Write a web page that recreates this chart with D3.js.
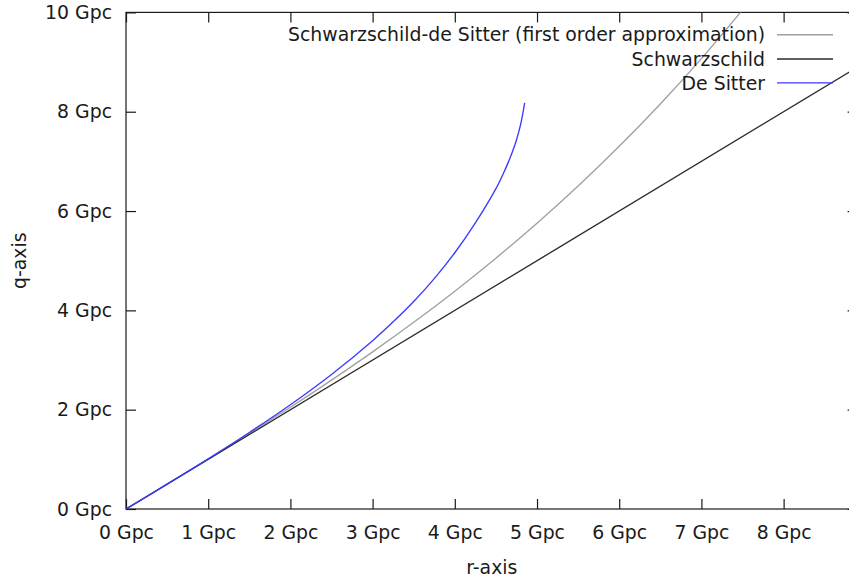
<!DOCTYPE html>
<html>
<head>
<meta charset="utf-8">
<script src="https://cdn.jsdelivr.net/npm/d3@7"></script>
<style>
  html, body { margin: 0; padding: 0; background: #fff; }
  svg { display: block; }
  text { font-family: "DejaVu Sans", sans-serif; font-size: 18.85px; fill: #1a1a1a; }
</style>
</head>
<body>
<svg id="chart" width="849" height="583"></svg>
<script>
// Comoving distance q versus radial coordinate r (both in Gpc)
const xTicks = [0, 1, 2, 3, 4, 5, 6, 7, 8];
const yTicks = [0, 2, 4, 6, 8, 10];

// Schwarzschild-de Sitter, first order approximation
const sdsR = [0, 0.5, 1, 1.5, 2, 2.5, 3, 3.5, 4, 4.5, 5, 5.5, 6, 6.5, 7, 7.5];
const sdsQ = [0, 0.50, 1.006, 1.52, 2.048, 2.594, 3.163, 3.759, 4.386, 5.05, 5.754, 6.504, 7.304, 8.157, 9.07, 10.05];

// Schwarzschild
const schR = [0, 9];
const schQ = [0, 9];

// De Sitter
const dsR = [0, 0.5, 1, 1.5, 2, 2.5, 3, 3.25, 3.5, 3.75, 4, 4.25, 4.5, 4.6, 4.65, 4.7, 4.75, 4.8, 4.85];
const dsQ = [0, 0.50, 1.01, 1.54, 2.10, 2.71, 3.39, 3.77, 4.18, 4.64, 5.16, 5.76, 6.45, 6.79, 6.98, 7.19, 7.43, 7.74, 8.18];

const seriesNames = ["Schwarzschild-de Sitter (first order approximation)", "Schwarzschild", "De Sitter"];
const seriesColors = ["#a0a0a0", "#2a2a2a", "#3a3aff"];

const svg = d3.select("#chart");
const plotLeft = 126, plotRight = 857.6, plotTop = 12.4, plotBottom = 509;

const x = d3.scaleLinear().domain([0, 8.9]).range([plotLeft, plotRight]);
const y = d3.scaleLinear().domain([0, 10]).range([plotBottom, plotTop]);

svg.append("defs").append("clipPath").attr("id", "plotClip")
  .append("rect").attr("x", plotLeft).attr("y", plotTop)
  .attr("width", plotRight - plotLeft).attr("height", plotBottom - plotTop);

const fmt = d => d + " Gpc";
const tickLen = 10;

// bottom axis (labels) and mirrored top ticks
const xAxis = svg.append("g").attr("transform", `translate(0,${plotBottom})`)
  .call(d3.axisBottom(x).tickValues(xTicks).tickFormat(fmt).tickSizeInner(-tickLen).tickSizeOuter(0).tickPadding(17));
const xTop = svg.append("g").attr("transform", `translate(0,${plotTop})`)
  .call(d3.axisTop(x).tickValues(xTicks).tickFormat("").tickSizeInner(-tickLen).tickSizeOuter(0));

// left axis (labels) and mirrored right ticks
const yAxis = svg.append("g").attr("transform", `translate(${plotLeft},0)`)
  .call(d3.axisLeft(y).tickValues(yTicks).tickFormat(fmt).tickSizeInner(-tickLen).tickSizeOuter(0).tickPadding(14));
const yRight = svg.append("g").attr("transform", `translate(${plotRight},0)`)
  .call(d3.axisRight(y).tickValues(yTicks).tickFormat("").tickSizeInner(-tickLen).tickSizeOuter(0));

[xAxis, xTop, yAxis, yRight].forEach(g => {
  g.select(".domain").remove();
  g.selectAll(".tick line").attr("stroke", "#1a1a1a").attr("stroke-width", 1.2);
  g.selectAll(".tick text").attr("font-family", "DejaVu Sans, sans-serif").attr("font-size", 18.7).attr("fill", "#1a1a1a");
});

// plot border
svg.append("rect").attr("x", plotLeft).attr("y", plotTop)
  .attr("width", plotRight - plotLeft).attr("height", plotBottom - plotTop)
  .attr("fill", "none").attr("stroke", "#1a1a1a").attr("stroke-width", 1.2);

// axis titles
svg.append("text").attr("x", (plotLeft + plotRight) / 2).attr("y", 574).attr("text-anchor", "middle").text("r-axis");
svg.append("text").attr("transform", `translate(26,${(plotTop + plotBottom) / 2}) rotate(-90)`)
  .attr("text-anchor", "middle").text("q-axis");

// curves
const series = [
  { r: sdsR, q: sdsQ },
  { r: schR, q: schQ },
  { r: dsR, q: dsQ }
];
const line = d3.line().x(d => x(d[0])).y(d => y(d[1])).curve(d3.curveCatmullRom.alpha(0.5));
const plot = svg.append("g").attr("clip-path", "url(#plotClip)");
series.forEach((s, i) => {
  plot.append("path")
    .datum(s.r.map((r, k) => [r, s.q[k]]))
    .attr("d", line)
    .attr("fill", "none")
    .attr("stroke", seriesColors[i])
    .attr("stroke-width", 1.35);
});

// key, top right
const legend = svg.append("g");
const rowY = [34.7, 59, 82.8];
seriesNames.forEach((name, i) => {
  legend.append("text").attr("x", 765).attr("y", rowY[i]).attr("dy", "0.36em")
    .attr("text-anchor", "end").text(name);
  legend.append("line").attr("x1", 777).attr("x2", 833).attr("y1", rowY[i]).attr("y2", rowY[i])
    .attr("stroke", seriesColors[i]).attr("stroke-width", 1.35);
});
</script>
</body>
</html>
